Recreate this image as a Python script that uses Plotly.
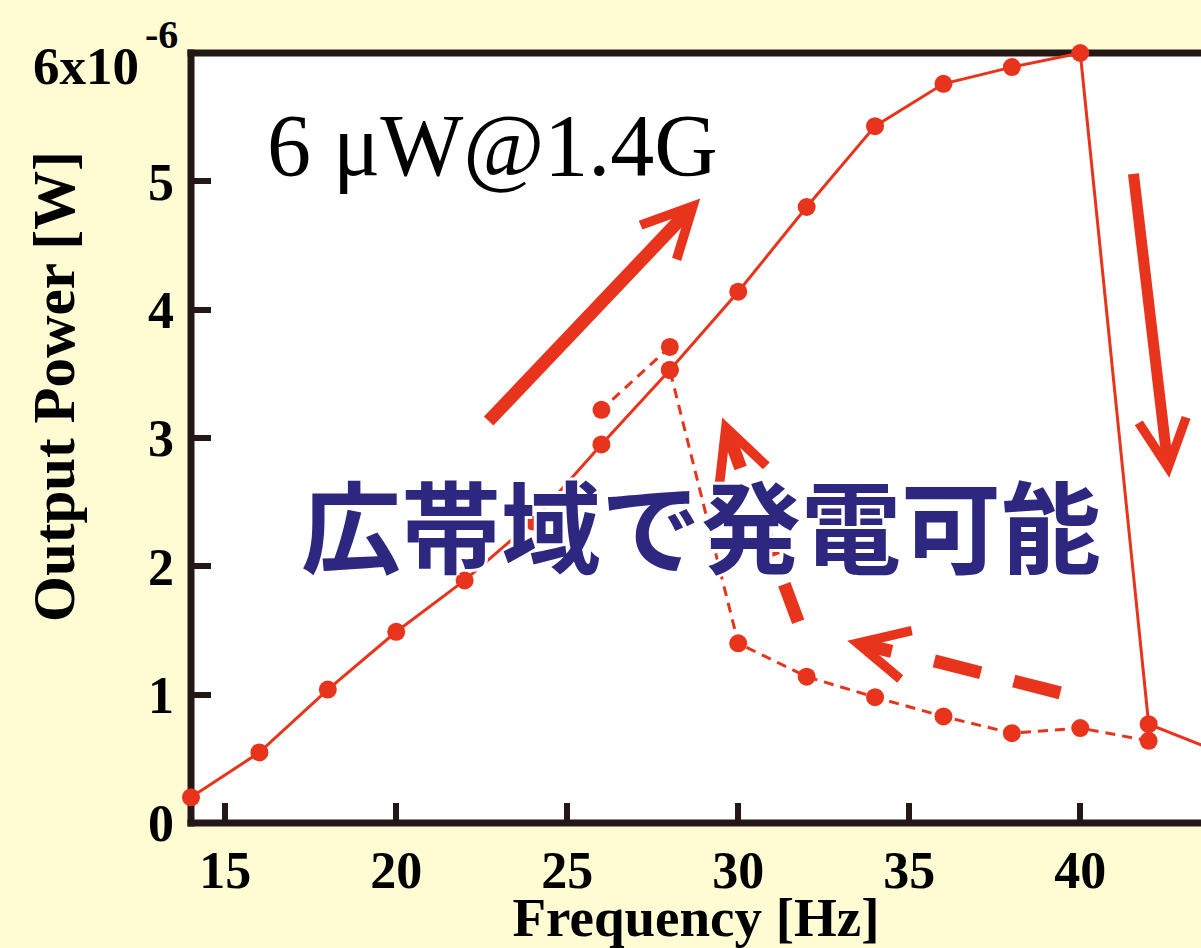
import plotly.graph_objects as go

# ---- data ----
up_freq = [14, 16, 18, 20, 22, 24, 26, 28, 30, 32, 34, 36, 38, 40, 42, 44]
up_power = [0.20, 0.55, 1.04, 1.49, 1.89, 2.35, 2.95, 3.53, 4.14, 4.80, 5.43, 5.76, 5.89, 6.00, 0.77, 0.56]

down_freq = [42, 40, 38, 36, 34, 32, 30, 28]
down_power = [0.64, 0.74, 0.70, 0.83, 0.98, 1.14, 1.40, 3.53]

extra_freq = [28, 26]
extra_power = [3.71, 3.22]

x_ticks = [15, 20, 25, 30, 35, 40]
y_ticks = [0, 1, 2, 3, 4, 5, 6]
y_ticktext = ["0", "1", "2", "3", "4", "5", ""]

RED = "#E8341C"
AXC = "#231815"
BLUE = "#2E2780"
BG = "#FFFBD3"
SERIF = "Liberation Serif"

fig = go.Figure()
fig.add_trace(go.Scatter(x=up_freq, y=up_power, mode="lines+markers",
                         line=dict(color=RED, width=3),
                         marker=dict(color=RED, size=18), cliponaxis=False,
                         showlegend=False))
fig.add_trace(go.Scatter(x=down_freq, y=down_power, mode="lines+markers",
                         line=dict(color=RED, width=3, dash="10px,7px"),
                         marker=dict(color=RED, size=18), cliponaxis=False,
                         showlegend=False))
fig.add_trace(go.Scatter(x=extra_freq, y=extra_power, mode="lines+markers",
                         line=dict(color=RED, width=3, dash="10px,7px"),
                         marker=dict(color=RED, size=18), cliponaxis=False,
                         showlegend=False))

# frame lines (centred on the plot edges)
frame = dict(color=AXC, width=7)
fig.add_shape(type="line", xref="paper", yref="paper", x0=0, x1=0, y0=-0.0045, y1=1.0045,
              line=frame, layer="below")
fig.add_shape(type="line", xref="paper", yref="paper", x0=-0.0035, x1=1, y0=0, y1=0,
              line=frame, layer="below")
fig.add_shape(type="line", xref="paper", yref="paper", x0=-0.0035, x1=1, y0=1, y1=1,
              line=frame, layer="below")

# dashed arrow shafts
fig.add_shape(type="line", xref="x", yref="y", x0=39.415, y0=1.014, x1=35.614, y1=1.271,
              line=dict(color=RED, width=13, dash="48px,34px"), layer="above")
fig.add_shape(type="line", xref="x", yref="y", x0=31.754, y0=1.568, x1=30.555, y1=2.426,
              line=dict(color=RED, width=13, dash="40px,30px"), layer="above")

annotations = [
    # solid arrows
    dict(x=28.889, y=4.867, ax=22.661, ay=3.120, xref="x", yref="y", axref="x", ayref="y",
         text="", showarrow=True, arrowhead=5, arrowwidth=13, arrowsize=0.75, arrowcolor=RED),
    dict(x=42.602, y=2.691, ax=41.550, ay=5.070, xref="x", yref="y", axref="x", ayref="y",
         text="", showarrow=True, arrowhead=5, arrowwidth=11, arrowsize=0.85, arrowcolor=RED),
    # heads of dashed arrows
    dict(x=33.187, y=1.420, ax=46, ay=11, xref="x", yref="y",
         text="", showarrow=True, arrowhead=5, arrowwidth=13, arrowsize=0.75, arrowcolor=RED),
    dict(x=29.532, y=3.159, ax=19, ay=52, xref="x", yref="y",
         text="", showarrow=True, arrowhead=5, arrowwidth=13, arrowsize=0.75, arrowcolor=RED),
    # texts
    dict(x=16.17, y=5.28, xref="x", yref="y", xanchor="left", yanchor="middle",
         text="6 μW@1.4G", showarrow=False,
         font=dict(family=SERIF, size=88, color="black")),
    dict(x=28.914, y=2.34, xref="x", yref="y", xanchor="center", yanchor="middle",
         text="広帯域で発電可能", showarrow=False,
         font=dict(family="Noto Sans CJK JP", size=100, color=BLUE, weight=700,
                   shadow="3px 0 0 white, -3px 0 0 white, 0 3px 0 white, 0 -3px 0 white")),
    # top tick label 6x10^-6
    dict(x=-0.0495, y=0.983, xref="paper", yref="paper", xanchor="right", yanchor="middle",
         text="6x10", showarrow=False,
         font=dict(family=SERIF, size=53, color="black", weight=700)),
    dict(x=-0.0475, y=1.024, xref="paper", yref="paper", xanchor="left", yanchor="middle",
         text="-6", showarrow=False,
         font=dict(family=SERIF, size=40, color="black", weight=700)),
    # y axis title
    dict(x=-0.1357, y=0.5675, xref="paper", yref="paper", xanchor="center", yanchor="middle",
         text="Output Power [W]", textangle=-90, showarrow=False,
         font=dict(family=SERIF, size=59, color="black", weight=700)),
]

fig.update_layout(
    width=1201, height=948,
    paper_bgcolor=BG, plot_bgcolor="white",
    margin=dict(l=191, r=0, t=53, b=125, pad=0),
    showlegend=False,
    annotations=annotations,
    xaxis=dict(range=[14, 43.53], tickvals=x_ticks, ticks="inside", ticklen=20,
               tickwidth=6, tickcolor=AXC, showline=False,
               showgrid=False, zeroline=False, layer="below traces", ticklabelstandoff=12,
               tickfont=dict(family=SERIF, size=52, color="black", weight=700),
               title=dict(text="Frequency [Hz]", standoff=9,
                          font=dict(family=SERIF, size=55, color="black", weight=700))),
    yaxis=dict(range=[0, 6], tickvals=y_ticks, ticktext=y_ticktext, ticks="inside",
               ticklen=20, tickwidth=6, tickcolor=AXC, showline=False,
               showgrid=False, zeroline=False,
               layer="below traces", ticklabelstandoff=16,
               tickfont=dict(family=SERIF, size=52, color="black", weight=700)),
)

fig.write_html(
    "out.html",
    config={"displayModeBar": False},
    post_script=("document.body.style.margin='0';"
                 "document.body.style.background='" + BG + "';"
                 "document.documentElement.style.overflow='hidden';"),
)
